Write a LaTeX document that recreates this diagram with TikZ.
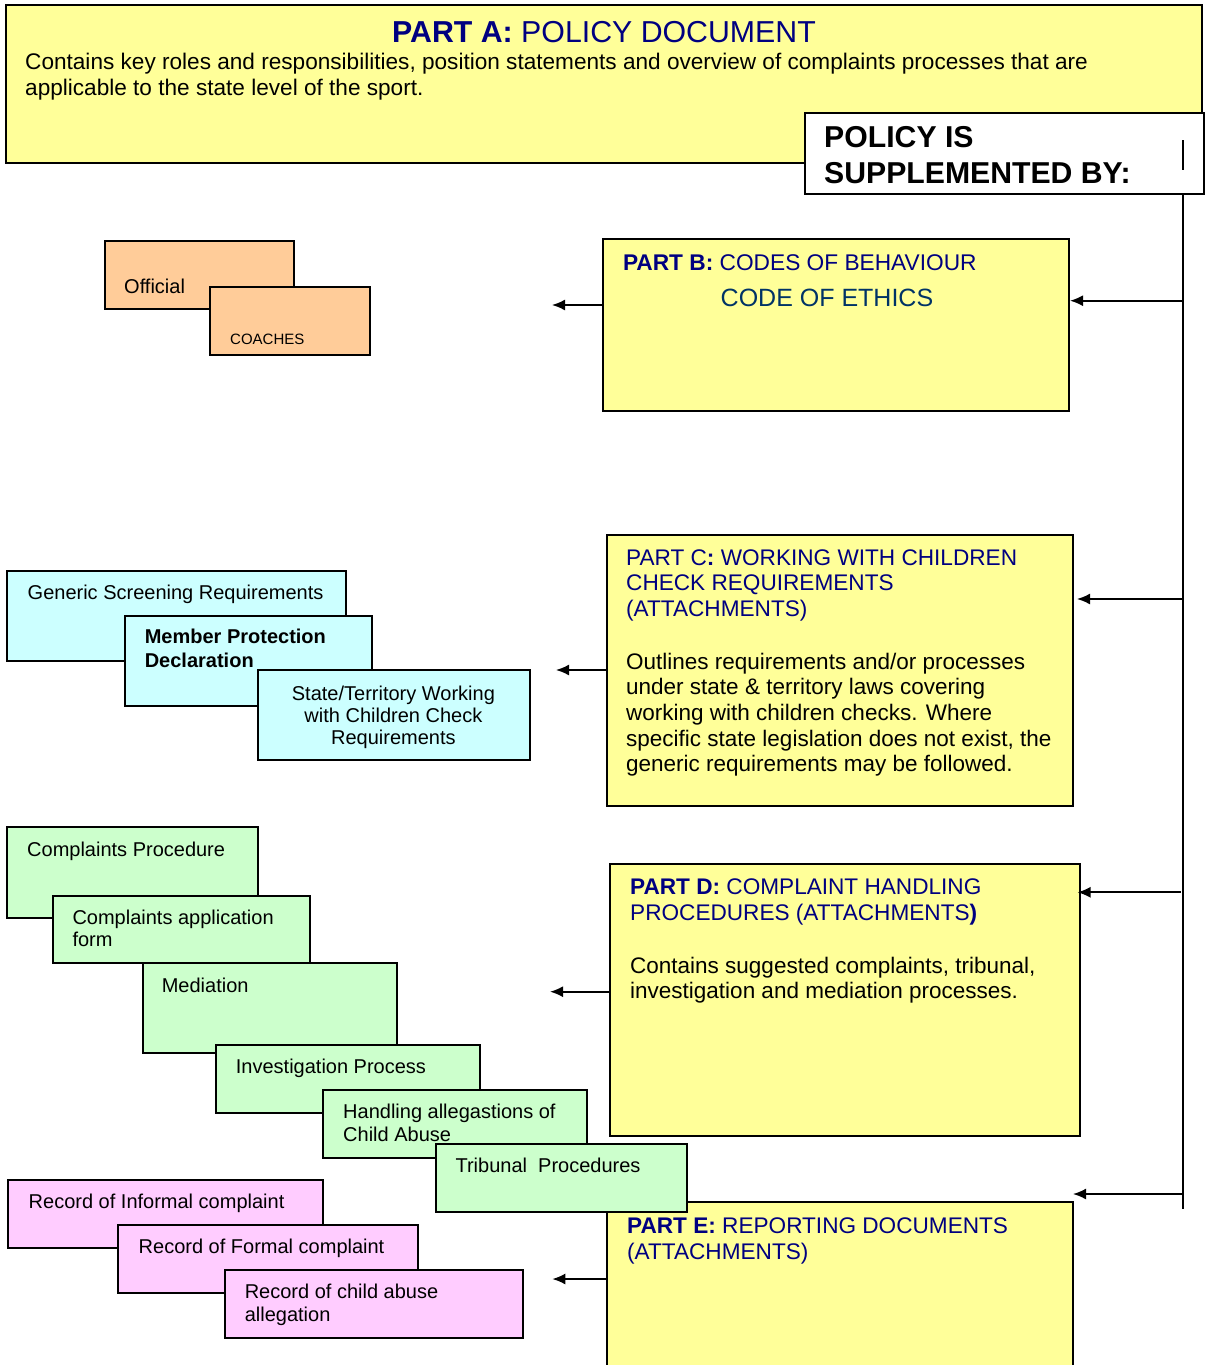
\documentclass[tikz,border=0pt]{standalone}
\usepackage{fontspec}
\setmainfont{Liberation Sans}
\usetikzlibrary{arrows.meta}
\definecolor{ybg}{HTML}{FFFF99}
\definecolor{obg}{HTML}{FFCC99}
\definecolor{cbg}{HTML}{CCFFFF}
\definecolor{gbg}{HTML}{CCFFCC}
\definecolor{pbg}{HTML}{FFCCFF}
\definecolor{navyc}{HTML}{000080}
\definecolor{ethc}{HTML}{003366}
\newcommand\fsz[2]{\fontsize{#1}{#2}\selectfont}
\tikzset{
  box/.style={draw=black, line width=1.6pt, anchor=north west, inner sep=0pt, outer sep=0pt},
  ybox/.style={box, fill=ybg},
  obox/.style={box, fill=obg},
  cbox/.style={box, fill=cbg},
  gbox/.style={box, fill=gbg},
  pbox/.style={box, fill=pbg},
  wbox/.style={box, fill=white},
  txt/.style={anchor=base west, inner sep=0pt, align=left},
  conn/.style={line width=1.7pt},
  arr/.style={line width=1.7pt, -{Latex[length=13pt,width=11pt]}},
}
\begin{document}
\begin{tikzpicture}[x=1pt,y=-1pt]
\useasboundingbox (0,0) rectangle (1206,1365);
% ---------- Part A ----------
\node[ybox, line width=2.4pt, minimum width=1196pt, minimum height=158pt] (pa) at (6,5) {};
\node[anchor=base, inner sep=0pt, font={\fsz{30.3}{36}}, text=navyc] (patitle) at (604,42.7) {\textbf{PART A:} POLICY DOCUMENT};
% multi-line text nodes: base anchor = baseline of the last line
\node[txt, font={\fsz{22.6}{26}}] (patext) at (25,95) {Contains key roles and responsibilities, position statements and overview of complaints processes that are\\applicable to the state level of the sport.};
\node[wbox, minimum width=399pt, minimum height=81pt] (pol) at (805,113) {};
\node[txt, font={\fsz{30.2}{35.3}\bfseries}] (poltext) at (824,183) {POLICY IS\\SUPPLEMENTED BY:};
\coordinate (tk1) at (1183,140);
\coordinate (tk2) at (1183,170);
\draw[line width=1.4pt] (tk1) -- (tk2);
% ---------- yellow parts ----------
\node[ybox, minimum width=466pt, minimum height=172pt] (pb) at (603,239) {};
\node[txt, font={\fsz{22.7}{26}}, text=navyc] (pbtitle) at (622.8,270) {\textbf{PART B:} CODES OF BEHAVIOUR};
\node[txt, font={\fsz{25}{28}}, text=ethc] (pbeth) at (720.5,306.7) {CODE OF ETHICS};
\node[ybox, minimum width=466pt, minimum height=271pt] (pc) at (607,535) {};
\node[txt, font={\fsz{22.6}{25.5}}, text=navyc] (pctitle) at (626,616) {PART C\textbf{:} WORKING WITH CHILDREN\\CHECK REQUIREMENTS\\(ATTACHMENTS)};
\node[txt, font={\fsz{22.5}{25.6}}] (pctext) at (626,771.7) {Outlines requirements and/or processes\\under state \& territory laws covering\\working with children checks. Where\\specific state legislation does not exist, the\\generic requirements may be followed.};
\node[ybox, minimum width=470pt, minimum height=272pt] (pd) at (610,864) {};
\node[txt, font={\fsz{22.6}{25.7}}, text=navyc] (pdtitle) at (630,920) {\textbf{PART D:} COMPLAINT HANDLING\\PROCEDURES (ATTACHMENTS\textbf{)}};
\node[txt, font={\fsz{22.5}{25}}] (pdtext) at (630,998.3) {Contains suggested complaints, tribunal,\\investigation and mediation processes.};
\node[ybox, minimum width=466pt, minimum height=180pt] (pe) at (607,1202) {};
\node[txt, font={\fsz{22.6}{26}}, text=navyc] (petitle) at (627,1259.3) {\textbf{PART E:} REPORTING DOCUMENTS\\(ATTACHMENTS)};
% ---------- orange ----------
\node[obox, minimum width=189pt, minimum height=68pt] (off) at (105,241) {};
\node[txt, font={\fsz{20}{24}}] (offt) at (124,293) {Official};
\node[obox, minimum width=160pt, minimum height=68pt] (coa) at (210,287) {};
\node[txt, font={\fsz{15}{18}}] (coat) at (230,344.3) {COACHES};
% ---------- cyan ----------
\node[cbox, minimum width=339pt, minimum height=90pt] (gen) at (7,571) {};
\node[txt, font={\fsz{20}{24}}] (gent) at (27.5,599.3) {Generic Screening Requirements};
\node[cbox, minimum width=247pt, minimum height=90pt] (mem) at (125,616) {};
\node[txt, font={\fsz{20}{24}\bfseries}] (memt) at (144.6,667.3) {Member Protection\\Declaration};
\node[cbox, minimum width=272pt, minimum height=90pt] (sta) at (258,670) {};
\node[anchor=base, inner sep=0pt, align=center, font={\fsz{20}{22}}] (stat) at (393.4,744) {State/Territory Working\\with Children Check\\Requirements};
% ---------- green ----------
\node[gbox, minimum width=251pt, minimum height=91pt] (cp) at (7,827) {};
\node[txt, font={\fsz{20}{22.7}}] (cpt) at (27,856.7) {Complaints Procedure};
\node[gbox, minimum width=257pt, minimum height=67pt] (caf) at (53,896) {};
\node[txt, font={\fsz{20}{22.7}}] (caft) at (72.3,946.7) {Complaints application\\form};
\node[gbox, minimum width=254pt, minimum height=90pt] (med) at (143,963) {};
\node[txt, font={\fsz{20}{22.7}}] (medt) at (161.6,992.7) {Mediation};
\node[gbox, minimum width=264pt, minimum height=68pt] (inv) at (216,1045) {};
\node[txt, font={\fsz{20}{22.7}}] (invt) at (235.7,1073.3) {Investigation Process};
\node[gbox, minimum width=264pt, minimum height=68pt] (hca) at (323,1090) {};
\node[txt, font={\fsz{20}{23.4}}] (hcat) at (343,1141.7) {Handling allegastions of\\Child Abuse};
\node[gbox, minimum width=251pt, minimum height=68pt] (tri) at (436,1144) {};
\node[txt, font={\fsz{20}{22.7}}] (trit) at (455.4,1172.7) {Tribunal\ \ Procedures};
% ---------- pink ----------
\node[pbox, minimum width=315pt, minimum height=68pt] (ric) at (8,1180) {};
\node[txt, font={\fsz{20}{23.4}}] (rict) at (28.5,1208.3) {Record of Informal complaint};
\node[pbox, minimum width=300pt, minimum height=68pt] (rfc) at (118,1225) {};
\node[txt, font={\fsz{20}{23.4}}] (rfct) at (138.5,1253.3) {Record of Formal complaint};
\node[pbox, minimum width=298pt, minimum height=68pt] (rca) at (225,1270) {};
\node[txt, font={\fsz{20}{23.4}}] (rcat) at (244.6,1321.7) {Record of child abuse\\allegation};
% ---------- connectors ----------
\coordinate (vt) at (1183,194);
\coordinate (vb) at (1183,1209);
\draw[conn] (vt) -- (vb);
\coordinate (bR) at (1183,300.7);
\coordinate (cR) at (1183,599);
\coordinate (dR) at (1180.6,892.3);
\coordinate (eR) at (1183,1194);
\draw[arr] (bR) -- ([xshift=1pt]pb.east |- bR);
\draw[arr] (cR) -- ([xshift=4pt]pc.east |- cR);
\draw[arr] (dR) -- ([xshift=-2.5pt]pd.east |- dR);
\draw[arr] (eR) -- (pe.east |- eR);
\coordinate (bL) at (552,305);
\coordinate (cL) at (556,670);
\coordinate (dL) at (550,991.7);
\coordinate (eL) at (552.3,1279);
\draw[arr] (pb.west |- bL) -- (bL);
\draw[arr] (pc.west |- cL) -- (cL);
\draw[arr] (pd.west |- dL) -- (dL);
\draw[arr] (pe.west |- eL) -- (eL);
\end{tikzpicture}
\end{document}
